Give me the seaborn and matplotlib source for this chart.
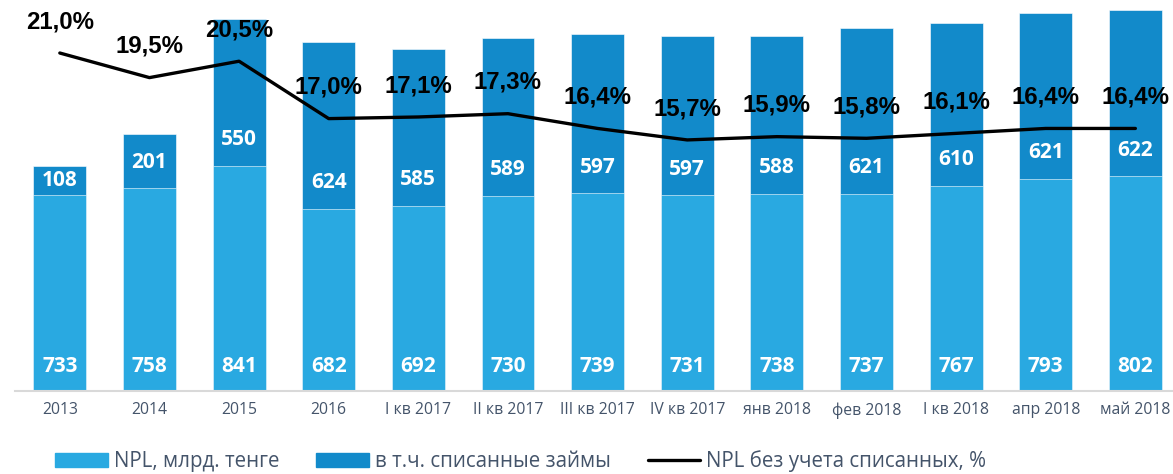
import matplotlib
matplotlib.use("Agg")
import matplotlib.pyplot as plt
import numpy as np
import pandas as pd
import seaborn as sns
from matplotlib.patches import Patch
from matplotlib.lines import Line2D

periods = ["2013", "2014", "2015", "2016", "I кв 2017", "II кв 2017", "III кв 2017",
           "IV кв 2017", "янв 2018", "фев 2018", "I кв 2018", "апр 2018", "май 2018"]
npl = [733, 758, 841, 682, 692, 730, 739, 731, 738, 737, 767, 793, 802]
written_off = [108, 201, 550, 624, 585, 589, 597, 597, 588, 621, 610, 621, 622]
npl_ratio = [21.0, 19.5, 20.5, 17.0, 17.1, 17.3, 16.4, 15.7, 15.9, 15.8, 16.1, 16.4, 16.4]

LIGHT = "#29A9E1"
DARK = "#128ACA"
TICK = "#44546A"

df = pd.DataFrame({"period": periods, "npl": npl, "written_off": written_off,
                   "ratio": npl_ratio})
df["total"] = df["npl"] + df["written_off"]
df["pos"] = np.arange(len(df))

sns.set_theme(style="white")
plt.rcParams["font.family"] = ["Open Sans", "DejaVu Sans"]

fig = plt.figure(figsize=(11.73, 4.74), dpi=100)
ax = fig.add_axes([15 / 1173, 83 / 474, 1 - 15 / 1173, 388 / 474])
XLIM = (-0.5, 12.42)

sns.barplot(data=df, x="period", y="total", color=DARK, width=0.59,
            saturation=1, ax=ax, edgecolor="white", linewidth=0.4)
sns.barplot(data=df, x="period", y="npl", color=LIGHT, width=0.59,
            saturation=1, ax=ax, edgecolor="white", linewidth=0.4)

ax.set_ylim(0, 1450)
ax.set_xlim(*XLIM)
ax.set_xlabel("")
ax.set_ylabel("")
ax.set_yticks([])
for s in ["top", "left", "right"]:
    ax.spines[s].set_visible(False)
ax.spines["bottom"].set_color("#D9D9D9")
ax.spines["bottom"].set_linewidth(1.5)
ax.tick_params(axis="x", length=0, pad=8, labelsize=11.3, labelcolor=TICK)

px = 388 / 1450  # pixels per unit
for i, row in df.iterrows():
    ax.text(i, 25 / px, f"{row['npl']}", ha="center", va="center", color="white",
            fontsize=15, fontweight="bold")
    y_top = min(row["npl"] + 26 / px, row["npl"] + row["written_off"] / 2)
    ax.text(i, y_top, f"{row['written_off']}", ha="center", va="center",
            color="white", fontsize=15, fontweight="bold")

ax2 = ax.twinx()
sns.lineplot(data=df, x="pos", y="ratio", color="black", linewidth=2.4,
             sort=False, ax=ax2)
ax2.set_ylim(0.39, 24.05)
ax2.set_xlim(*XLIM)
ax2.set_yticks([])
ax2.set_ylabel("")
ax2.set_xlabel("")
for s in ["top", "left", "right", "bottom"]:
    ax2.spines[s].set_visible(False)

for i, row in df.iterrows():
    ax2.annotate(f"{row['ratio']:.1f}%".replace(".", ","), (i, row["ratio"]),
                 xytext=(0, 22.5), textcoords="offset points", ha="center",
                 va="center", fontsize=17.3, fontweight="bold", color="black",
                 family=["Liberation Sans", "DejaVu Sans"])

handles = [Patch(color=LIGHT), Patch(color=DARK), Line2D([], [], color="black", linewidth=2.4)]
labels = ["NPL, млрд. тенге", "в т.ч. списанные займы", "NPL без учета списанных, %"]
fig.legend(handles, labels, ncol=3, loc="center", bbox_to_anchor=(0.444, 1 - 461 / 474),
           frameon=False, prop={"size": 14.8}, labelcolor=TICK, handlelength=2.55,
           handleheight=0.65, handletextpad=0.3, columnspacing=1.8)

fig.savefig("out.png", dpi=100)
